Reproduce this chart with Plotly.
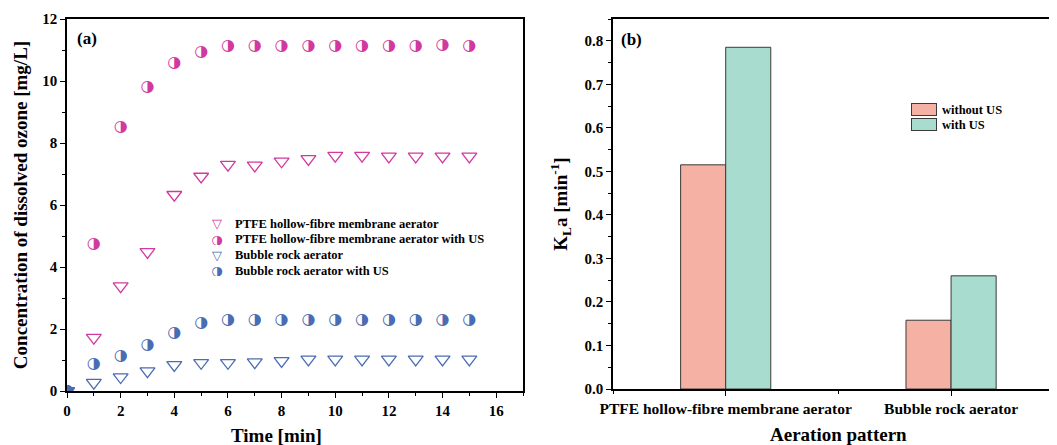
import plotly.graph_objects as go

# ---------------- data ----------------
time_min = [0, 1, 2, 3, 4, 5, 6, 7, 8, 9, 10, 11, 12, 13, 14, 15]
ptfe = [0, 1.72, 3.38, 4.49, 6.33, 6.92, 7.30, 7.28, 7.41, 7.49, 7.59, 7.59, 7.57, 7.57, 7.57, 7.57]
ptfe_us = [0, 4.74, 8.53, 9.82, 10.58, 10.92, 11.14, 11.14, 11.14, 11.14, 11.14, 11.14, 11.14, 11.14, 11.15, 11.12]
bubble = [0, 0.27, 0.45, 0.64, 0.84, 0.91, 0.91, 0.93, 0.97, 1.02, 1.02, 1.02, 1.02, 1.02, 1.02, 1.02]
bubble_us = [0, 0.88, 1.13, 1.47, 1.88, 2.18, 2.29, 2.30, 2.29, 2.29, 2.29, 2.29, 2.29, 2.29, 2.29, 2.29]
series_names = [
    "PTFE hollow-fibre membrane aerator",
    "PTFE hollow-fibre membrane aerator with US",
    "Bubble rock aerator",
    "Bubble rock aerator with US",
]

patterns = ["PTFE hollow-fibre membrane aerator", "Bubble rock aerator"]
kla_without = [0.515, 0.158]
kla_with = [0.785, 0.260]
bar_names = ["without US", "with US"]

# ---------------- style ----------------
PINK = "#D2399E"
BLUE = "#4A6CB2"
BAR1 = "#F5B1A4"
BAR2 = "#A7DCCF"
FONT = "Liberation Serif"
OFF = 8                      # page body margin
W, H = 1057 - OFF, 445 - OFF


def px(x):
    return (x - OFF) / W


def py(y):
    return 1 - (y - OFF) / H


fig = go.Figure()

series = [
    (ptfe, PINK, "tri"),
    (ptfe_us, PINK, "half"),
    (bubble, BLUE, "tri"),
    (bubble_us, BLUE, "half"),
]
for (vals, col, kind), name in zip(series, series_names):
    if kind == "tri":
        fig.add_trace(go.Scatter(
            x=time_min, y=vals, mode="markers", showlegend=False, name=name,
            marker=dict(symbol="triangle-down-open", size=13, color=col, line=dict(width=1.3, color=col)),
            xaxis="x", yaxis="y"))
    else:
        fig.add_trace(go.Scatter(
            x=time_min, y=vals, mode="text", text=["\u25D1"] * len(vals), showlegend=False, name=name,
            textposition="middle center",
            textfont=dict(family="DejaVu Sans", size=16, color=col),
            xaxis="x", yaxis="y"))

# bars (panel b)
idx = list(range(len(patterns)))
fig.add_trace(go.Bar(x=idx, y=kla_without, name=bar_names[0], showlegend=False,
                     marker=dict(color=BAR1, line=dict(color="#3a3a3a", width=1)), xaxis="x2", yaxis="y2"))
fig.add_trace(go.Bar(x=idx, y=kla_with, name=bar_names[1], showlegend=False,
                     marker=dict(color=BAR2, line=dict(color="#3a3a3a", width=1)), xaxis="x2", yaxis="y2"))

tickfont = dict(family=FONT, size=15, color="black", weight="bold")
titlefont = dict(family=FONT, size=19, color="black", weight="bold")

axcommon = dict(showgrid=False, zeroline=False, showline=True, linecolor="black", linewidth=1.5,
                mirror=True, ticks="outside", ticklen=5, tickwidth=1.3, tickcolor="black",
                tickfont=tickfont, automargin=False)

fig.update_layout(
    width=W, height=H,
    margin=dict(l=0, r=0, t=0, b=0),
    paper_bgcolor="white", plot_bgcolor="white",
    barmode="group", bargap=0.6, bargroupgap=0,
    showlegend=False,
    xaxis=dict(domain=[px(67), px(523)], range=[0, 17], tickvals=list(range(0, 17, 2)),
               minor=dict(dtick=1, ticks="outside", ticklen=3, tickcolor="black"),
               anchor="y", **axcommon),
    yaxis=dict(domain=[py(391), py(19)], range=[0, 12], tickvals=list(range(0, 13, 2)),
               minor=dict(dtick=1, ticks="outside", ticklen=3, tickcolor="black"),
               title=dict(text="Concentration of dissolved ozone [mg/L]", font=titlefont, standoff=10),
               anchor="x", **axcommon),
    xaxis2=dict(domain=[px(613), 1.0], range=[-0.5, 1.47], tickvals=idx, ticktext=patterns,
                minor=dict(dtick=0.5, tick0=0.5, ticks="outside", ticklen=3, tickcolor="black"),
                anchor="y2",
                **{**axcommon, "tickfont": dict(family=FONT, size=15.5, color="black", weight="bold")}),
    yaxis2=dict(domain=[py(389), py(19)], range=[0, 0.85], tickvals=[0, 0.1, 0.2, 0.3, 0.4, 0.5, 0.6, 0.7, 0.8],
                tickformat=".1f",
                minor=dict(dtick=0.05, ticks="outside", ticklen=3, tickcolor="black"),
                title=dict(text="K<sub>L</sub>a [min<sup>-1</sup>]", font=titlefont, standoff=12),
                anchor="x2", **axcommon),
)

# x-axis titles (centred like the original)
fig.add_annotation(text="Time [min]", xref="x", yref="paper", x=7.8, y=py(435), xanchor="center", yanchor="middle",
                   showarrow=False, font=titlefont)
fig.add_annotation(text="Aeration pattern", xref="x2", yref="paper", x=0.5, y=py(434), xanchor="center",
                   yanchor="middle", showarrow=False, font=titlefont)

# panel labels
fig.add_annotation(text="(a)", xref="paper", yref="paper", x=px(75), y=py(38), xanchor="left", yanchor="middle",
                   showarrow=False, font=dict(family=FONT, size=17, color="black", weight="bold"))
fig.add_annotation(text="(b)", xref="paper", yref="paper", x=px(619), y=py(40), xanchor="left", yanchor="middle",
                   showarrow=False, font=dict(family=FONT, size=17, color="black", weight="bold"))

# legend for panel (a)
glyphs = [("\u25BD", PINK), ("\u25D1", PINK), ("\u25BD", BLUE), ("\u25D1", BLUE)]
row_y = [223, 239, 255, 270]
for (g, col), name, ry in zip(glyphs, series_names, row_y):
    fig.add_annotation(text=g, xref="paper", yref="paper", x=px(217), y=py(ry), xanchor="center", yanchor="middle",
                       showarrow=False, width=14, height=12, borderpad=0,
                       font=dict(family="DejaVu Sans", size=13, color=col))
    fig.add_annotation(text=name, xref="paper", yref="paper", x=px(234), y=py(ry), xanchor="left", yanchor="middle",
                       showarrow=False, height=13, borderpad=0,
                       font=dict(family=FONT, size=12.5, color="black", weight="bold"))

# legend for panel (b): swatches + labels
for name, col, ry in zip(bar_names, [BAR1, BAR2], [109, 124]):
    fig.add_annotation(text=" ", xref="paper", yref="paper", x=px(924), y=py(ry), xanchor="center", yanchor="middle",
                       showarrow=False, width=24, height=11, bgcolor=col, bordercolor="#3a3a3a", borderwidth=1,
                       borderpad=0, font=dict(size=8))
    fig.add_annotation(text=name, xref="paper", yref="paper", x=px(941), y=py(ry), xanchor="left", yanchor="middle",
                       showarrow=False, height=13, borderpad=0,
                       font=dict(family=FONT, size=12.5, color="black", weight="bold"))

fig.write_html("out.html")
